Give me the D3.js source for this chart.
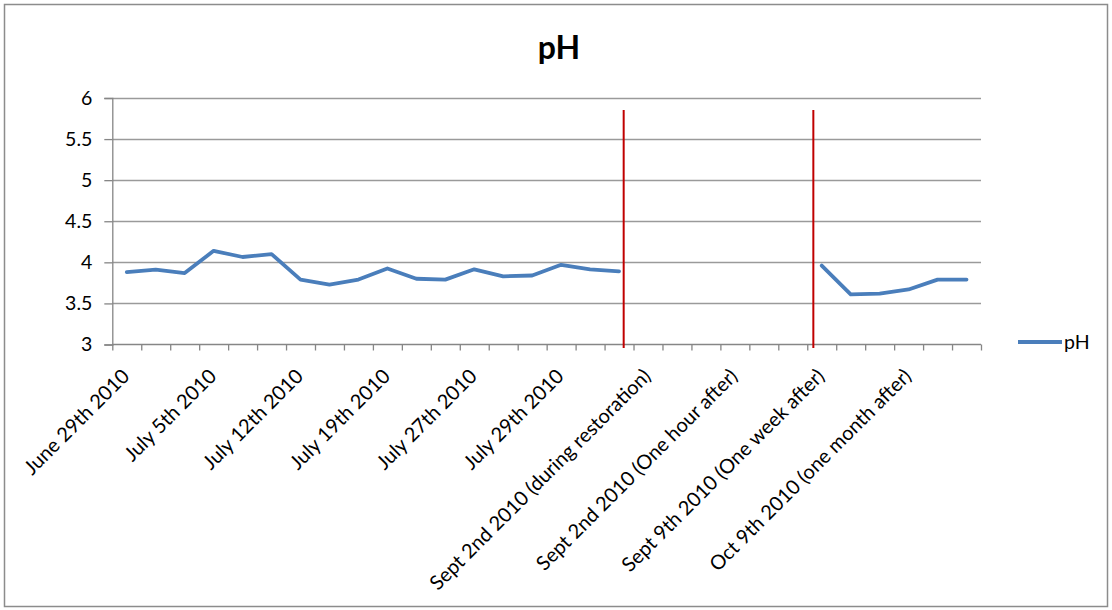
<!DOCTYPE html>
<html>
<head>
<meta charset="utf-8">
<script src="https://cdn.jsdelivr.net/npm/d3@7"></script>
<style>
  html, body { margin: 0; padding: 0; background: #fff; }
  svg { display: block; }
  text { font-family: Lato, "Open Sans", sans-serif; fill: #000; }
</style>
</head>
<body>
<svg id="chart" width="1112" height="610"></svg>
<script>
// ---- data ----
const categories = [
  "June 29th 2010", "", "",
  "July 5th 2010", "", "",
  "July 12th 2010", "", "",
  "July 19th 2010", "", "",
  "July 27th 2010", "", "",
  "July 29th 2010", "", "",
  "Sept 2nd 2010 (during restoration)", "", "",
  "Sept 2nd 2010 (One hour after)", "", "",
  "Sept 9th 2010 (One week after)", "", "",
  "Oct 9th 2010 (one month after)", "", ""
];
const phValues = [
  3.88, 3.91, 3.87, 4.14, 4.065, 4.10, 3.79, 3.73, 3.79, 3.925,
  3.80, 3.79, 3.915, 3.83, 3.84, 3.97, 3.915, 3.89, null, null,
  null, null, null, null, 3.96, 3.61, 3.62, 3.67, 3.79, 3.79
];
const yTicks = [3, 3.5, 4, 4.5, 5, 5.5, 6];
const yTickLabels = ["3", "3.5", "4", "4.5", "5", "5.5", "6"];
const markerPositions = [17.66, 24.21]; // in category units
const seriesName = "pH";
const chartTitle = "pH";

// ---- layout ----
const W = 1112, H = 610;
const plot = { left: 112.3, right: 981, top: 98, bottom: 344.5 };
const svg = d3.select("#chart");

// border
svg.append("rect")
  .attr("x", 4.5).attr("y", 4.5).attr("width", 1103).attr("height", 602)
  .attr("fill", "#fff").attr("stroke", "#8c8c8c").attr("stroke-width", 1.5);

const n = categories.length;
const x = d3.scaleBand().domain(d3.range(n)).range([plot.left, plot.right]).paddingInner(0).paddingOuter(0);
const xPos = d3.scaleLinear().domain([0, n]).range([plot.left, plot.right]);
const y = d3.scaleLinear().domain([3, 6]).range([plot.bottom, plot.top]);

// gridlines
svg.append("g").selectAll("line").data(yTicks.filter(t => t !== 3)).join("line")
  .attr("x1", plot.left).attr("x2", plot.right)
  .attr("y1", d => Math.round(y(d)) + 0.5).attr("y2", d => Math.round(y(d)) + 0.5)
  .attr("stroke", "#9a9a9a").attr("stroke-width", 1.3);

// y axis
const yAxis = d3.axisLeft(y).tickValues(yTicks).tickSize(8).tickPadding(12)
  .tickFormat((d, i) => yTickLabels[i]);
const gy = svg.append("g").attr("transform", `translate(${plot.left},0)`).call(yAxis);
gy.select(".domain").attr("stroke", "#868686").attr("stroke-width", 1.3);
gy.selectAll(".tick line").attr("stroke", "#868686").attr("stroke-width", 1.3);
gy.selectAll(".tick text").attr("font-size", 19.5).attr("font-family", "Lato, sans-serif").attr("fill", "#000");

// x axis (boundary ticks)
const xAxis = d3.axisBottom(xPos).tickValues(d3.range(n + 1)).tickSize(6).tickFormat("");
const gx = svg.append("g").attr("transform", `translate(0,${plot.bottom})`).call(xAxis);
gx.select(".domain").attr("stroke", "#868686").attr("stroke-width", 1.3).attr("d", `M${plot.left},0H${plot.right}`);
gx.selectAll(".tick line").attr("stroke", "#868686").attr("stroke-width", 1.3);

// x labels rotated
svg.append("g").selectAll("text")
  .data(categories.map((c, i) => ({ c, i })).filter(d => d.c !== ""))
  .join("text")
  .attr("transform", d => `translate(${x(d.i) + x.bandwidth() / 2 - 1},${plot.bottom + 28}) rotate(-45)`)
  .attr("text-anchor", "end")
  .attr("dy", "0.35em")
  .attr("font-size", 20)
  .text(d => d.c);

// line
const line = d3.line()
  .defined(d => d != null)
  .x((d, i) => x(i) + x.bandwidth() / 2)
  .y(d => y(d));
svg.append("path").datum(phValues)
  .attr("d", line)
  .attr("fill", "none")
  .attr("stroke", "#4a7ebb")
  .attr("stroke-width", 3.8)
  .attr("stroke-linejoin", "round")
  .attr("stroke-linecap", "round");

// red marker lines
svg.append("g").selectAll("line").data(markerPositions).join("line")
  .attr("x1", d => xPos(d)).attr("x2", d => xPos(d))
  .attr("y1", 110).attr("y2", 348)
  .attr("stroke", "#c00000").attr("stroke-width", 2);

// title
svg.append("text")
  .attr("x", 559).attr("y", 59)
  .attr("text-anchor", "middle")
  .attr("font-size", 32).attr("font-weight", "bold")
  .text(chartTitle);

// legend
const lg = svg.append("g").attr("transform", "translate(1018,342)");
lg.append("line").attr("x1", 0).attr("x2", 44).attr("y1", 0).attr("y2", 0)
  .attr("stroke", "#4a7ebb").attr("stroke-width", 4);
lg.append("text").attr("x", 46).attr("y", 0).attr("dy", "0.35em")
  .attr("font-size", 19.5).text(seriesName);
</script>
</body>
</html>
